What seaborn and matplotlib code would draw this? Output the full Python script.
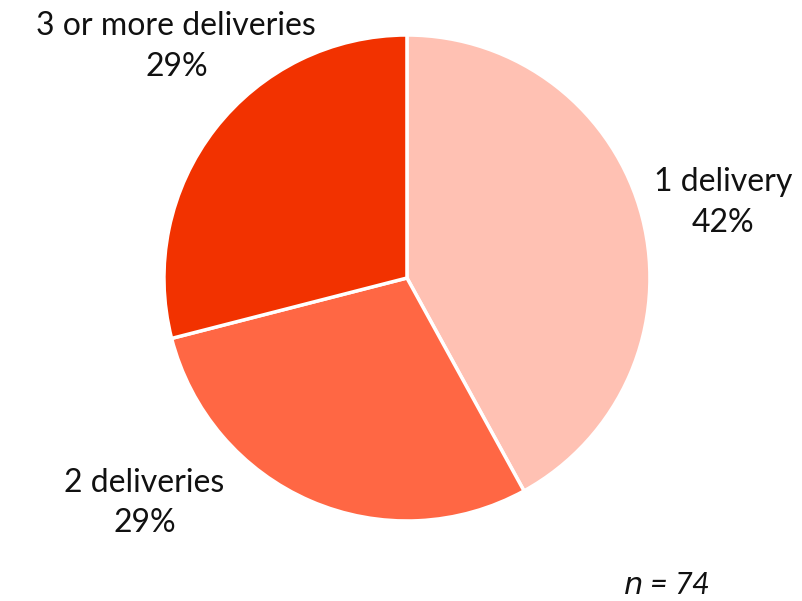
import matplotlib
matplotlib.use("Agg")
import matplotlib.pyplot as plt
import seaborn as sns

# Delivery count share (n = 74)
categories = ['1 delivery', '2 deliveries', '3 or more deliveries']
shares = [42, 29, 29]
pct_labels = ['42%', '29%', '29%']
colors = ['#FFC1B3', '#FF6744', '#F23200']
sample_size = 74

sns.set_theme(style="white")
plt.rcParams['font.family'] = ['Lato', 'DejaVu Sans']

fig = plt.figure(figsize=(8.03, 6.01), dpi=100)
ax = fig.add_axes([0.2042, 0.1331, 0.6052, 0.8087])

ax.pie(shares, colors=colors, startangle=90, counterclock=False, radius=1,
       wedgeprops=dict(edgecolor='white', linewidth=2.5))
ax.set_xlim(-1, 1)
ax.set_ylim(-1, 1)
ax.set_aspect('equal')
ax.axis('off')

label_pos = [(1.30, 0.31), (-1.08, -0.926), (-0.949, 0.953)]
for name, pct, (x, y) in zip(categories, pct_labels, label_pos):
    ax.text(x, y, f"{name}\n{pct}", ha='center', va='center', fontsize=23,
            color='#111111', linespacing=1.45, clip_on=False)

ax.text(1.07, -1.262, f"$n$ = {sample_size}", ha='center', va='center',
        fontsize=22, color='#111111', clip_on=False, style='italic')

fig.savefig('out.png', dpi=100)
